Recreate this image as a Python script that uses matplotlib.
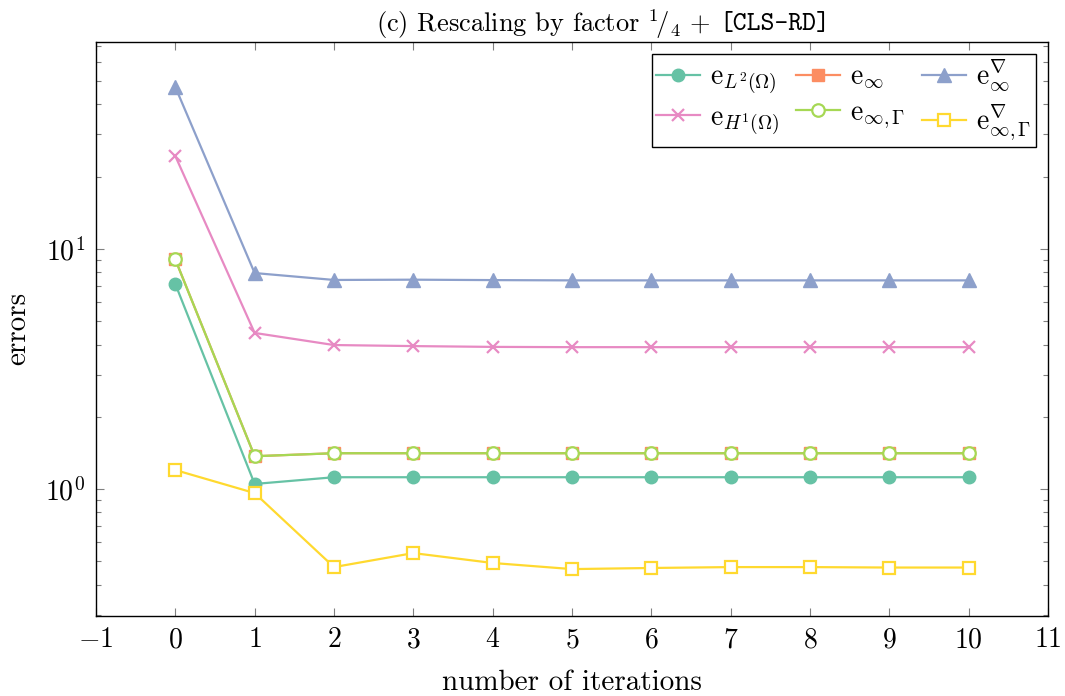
import matplotlib
matplotlib.use("Agg")
import matplotlib.pyplot as plt
from matplotlib.ticker import LogLocator, FixedLocator

plt.rcParams['font.family'] = 'serif'
plt.rcParams['font.serif'] = ['cmr10']
plt.rcParams['mathtext.fontset'] = 'cm'
plt.rcParams['axes.formatter.use_mathtext'] = True
plt.rcParams['axes.unicode_minus'] = True

iterations = [0, 1, 2, 3, 4, 5, 6, 7, 8, 9, 10]
e_L2 = [7.15, 1.05, 1.12, 1.12, 1.12, 1.12, 1.12, 1.12, 1.12, 1.12, 1.12]
e_inf = [9.05, 1.37, 1.41, 1.41, 1.41, 1.41, 1.41, 1.41, 1.41, 1.41, 1.41]
e_grad_inf = [47.3, 7.94, 7.43, 7.45, 7.42, 7.40, 7.40, 7.40, 7.40, 7.40, 7.40]
e_H1 = [24.4, 4.47, 3.98, 3.94, 3.91, 3.90, 3.90, 3.90, 3.90, 3.90, 3.90]
e_inf_G = [9.05, 1.37, 1.41, 1.41, 1.41, 1.41, 1.41, 1.41, 1.41, 1.41, 1.41]
e_grad_inf_G = [1.20, 0.962, 0.473, 0.541, 0.492, 0.464, 0.469, 0.473, 0.473, 0.471, 0.471]

labels = [r"$\mathrm{e}_{L^2(\Omega)}$", r"$\mathrm{e}_{\infty}$", r"$\mathrm{e}_{\infty}^{\nabla}$",
          r"$\mathrm{e}_{H^1(\Omega)}$", r"$\mathrm{e}_{\infty,\Gamma}$", r"$\mathrm{e}_{\infty,\Gamma}^{\nabla}$"]
colors = ['#66c2a5', '#fc8d62', '#8da0cb', '#e78ac3', '#a6d854', '#ffd92f']

fig = plt.figure(figsize=(10.65, 6.96), dpi=100)
ax = fig.add_axes([0.0901, 0.115, 0.894, 0.8248])

lw = 1.6
h = {}
h['L2'], = ax.plot(iterations, e_L2, color=colors[0], marker='o', ms=9, mec=colors[0], mfc=colors[0], lw=lw, label=labels[0])
h['inf'], = ax.plot(iterations, e_inf, color=colors[1], marker='s', ms=8, mec=colors[1], mfc=colors[1], lw=lw, label=labels[1])
h['grad'], = ax.plot(iterations, e_grad_inf, color=colors[2], marker='^', ms=10, mec=colors[2], mfc=colors[2], lw=lw, label=labels[2])
h['H1'], = ax.plot(iterations, e_H1, color=colors[3], marker='x', ms=9, mew=1.6, lw=lw, label=labels[3])
h['infG'], = ax.plot(iterations, e_inf_G, color=colors[4], marker='o', ms=9, mew=1.6, mec=colors[4], mfc='white', lw=lw, label=labels[4])
h['gradG'], = ax.plot(iterations, e_grad_inf_G, color=colors[5], marker='s', ms=8, mew=1.6, mec=colors[5], mfc='white', lw=lw, label=labels[5])

ax.set_yscale('log')
ax.set_xlim(-1, 11)
ax.set_ylim(0.296, 72.9)
ax.xaxis.set_major_locator(FixedLocator(list(range(-1, 12))))
ax.yaxis.set_major_locator(LogLocator(base=10, numticks=10))
ax.yaxis.set_minor_locator(LogLocator(base=10, subs=range(2, 10), numticks=20))
ax.yaxis.set_minor_formatter(plt.NullFormatter())

ax.tick_params(axis='both', which='both', direction='in', top=True, right=True, color='#808080', width=0.8)
ax.tick_params(axis='both', which='major', length=6, labelsize=20, pad=8)
ax.tick_params(axis='both', which='minor', length=3.5)
for s in ax.spines.values():
    s.set_linewidth(1.0)

ax.set_xlabel('number of iterations', fontsize=21, labelpad=12)
ax.set_ylabel('errors', fontsize=21, labelpad=10)

# title in two parts: roman + typewriter
t1 = fig.text(0, 0.965, r"(c) Rescaling by factor ${}^1\!/{}_{4}$ +", fontsize=19, ha='left', va='center')
t2 = fig.text(0, 0.965, "[CLS-RD]", family='cmtt10', fontsize=19, ha='left', va='center')
fig.canvas.draw()
r = fig.canvas.get_renderer()
w1 = t1.get_window_extent(r).width
w2 = t2.get_window_extent(r).width
gap = 9.0
W = fig.bbox.width
center = 603.0
x0 = center - (w1 + gap + w2) / 2
t1.set_x(x0 / W)
t2.set_x((x0 + w1 + gap) / W)

order = ['L2', 'H1', 'inf', 'infG', 'grad', 'gradG']
leg = ax.legend([h[k] for k in order], [h[k].get_label() for k in order], ncol=3, loc='upper right',
                fontsize=20, frameon=True, fancybox=False, edgecolor='black', framealpha=1,
                borderaxespad=0.45, handlelength=1.6, columnspacing=0.6, handletextpad=0.35,
                labelspacing=0.3, borderpad=0.15)
leg.get_frame().set_linewidth(1.0)

fig.savefig('out.png', dpi=100)
